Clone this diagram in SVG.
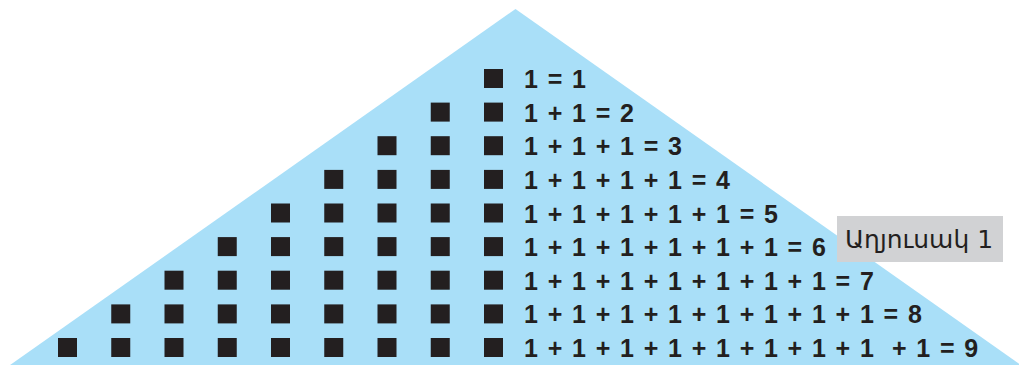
<svg xmlns="http://www.w3.org/2000/svg" width="1019" height="365" viewBox="0 0 1019 365">
<style>
.sq{fill:#231f20}
.eq{font-family:"Liberation Sans",Arial,sans-serif;font-weight:bold;font-size:25px;fill:#231f20;letter-spacing:1.4px}
.lbl{font-family:"DejaVu Sans","Noto Sans",sans-serif;font-size:24px;fill:#231f20}
</style>
<defs><rect id="s" width="19" height="19" class="sq"/></defs>
<rect width="1019" height="365" fill="#ffffff"/>
<polygon id="triangle" points="515.5,9 3,370 1028,370" fill="#a9dff8"/>
<g id="row1"><use href="#s" x="484" y="69"/><text class="eq" x="524" y="88">1 = 1</text></g>
<g id="row2"><use href="#s" x="430.75" y="102.6"/><use href="#s" x="484" y="102.6"/><text class="eq" x="524" y="121.6">1 + 1 = 2</text></g>
<g id="row3"><use href="#s" x="377.5" y="136.2"/><use href="#s" x="430.75" y="136.2"/><use href="#s" x="484" y="136.2"/><text class="eq" x="524" y="155.2">1 + 1 + 1 = 3</text></g>
<g id="row4"><use href="#s" x="324.25" y="169.9"/><use href="#s" x="377.5" y="169.9"/><use href="#s" x="430.75" y="169.9"/><use href="#s" x="484" y="169.9"/><text class="eq" x="524" y="188.9">1 + 1 + 1 + 1 = 4</text></g>
<g id="row5"><use href="#s" x="271" y="203.5"/><use href="#s" x="324.25" y="203.5"/><use href="#s" x="377.5" y="203.5"/><use href="#s" x="430.75" y="203.5"/><use href="#s" x="484" y="203.5"/><text class="eq" x="524" y="222.5">1 + 1 + 1 + 1 + 1 = 5</text></g>
<g id="row6"><use href="#s" x="217.75" y="237.1"/><use href="#s" x="271" y="237.1"/><use href="#s" x="324.25" y="237.1"/><use href="#s" x="377.5" y="237.1"/><use href="#s" x="430.75" y="237.1"/><use href="#s" x="484" y="237.1"/><text class="eq" x="524" y="256.1">1 + 1 + 1 + 1 + 1 + 1 = 6</text></g>
<g id="row7"><use href="#s" x="164.5" y="270.7"/><use href="#s" x="217.75" y="270.7"/><use href="#s" x="271" y="270.7"/><use href="#s" x="324.25" y="270.7"/><use href="#s" x="377.5" y="270.7"/><use href="#s" x="430.75" y="270.7"/><use href="#s" x="484" y="270.7"/><text class="eq" x="524" y="289.7">1 + 1 + 1 + 1 + 1 + 1 + 1 = 7</text></g>
<g id="row8"><use href="#s" x="111.25" y="304.4"/><use href="#s" x="164.5" y="304.4"/><use href="#s" x="217.75" y="304.4"/><use href="#s" x="271" y="304.4"/><use href="#s" x="324.25" y="304.4"/><use href="#s" x="377.5" y="304.4"/><use href="#s" x="430.75" y="304.4"/><use href="#s" x="484" y="304.4"/><text class="eq" x="524" y="323.4">1 + 1 + 1 + 1 + 1 + 1 + 1 + 1 = 8</text></g>
<g id="row9"><use href="#s" x="58" y="338"/><use href="#s" x="111.25" y="338"/><use href="#s" x="164.5" y="338"/><use href="#s" x="217.75" y="338"/><use href="#s" x="271" y="338"/><use href="#s" x="324.25" y="338"/><use href="#s" x="377.5" y="338"/><use href="#s" x="430.75" y="338"/><use href="#s" x="484" y="338"/><text class="eq" x="524" y="357">1 + 1 + 1 + 1 + 1 + 1 + 1 + 1 &#160;+ 1 = 9</text></g>
<g id="caption"><rect x="837" y="216" width="166" height="46" fill="#d1d2d4"/><text class="lbl" x="845" y="248" textLength="148" lengthAdjust="spacingAndGlyphs">Աղյուսակ 1</text></g>
<g id="connectors"/>
</svg>
